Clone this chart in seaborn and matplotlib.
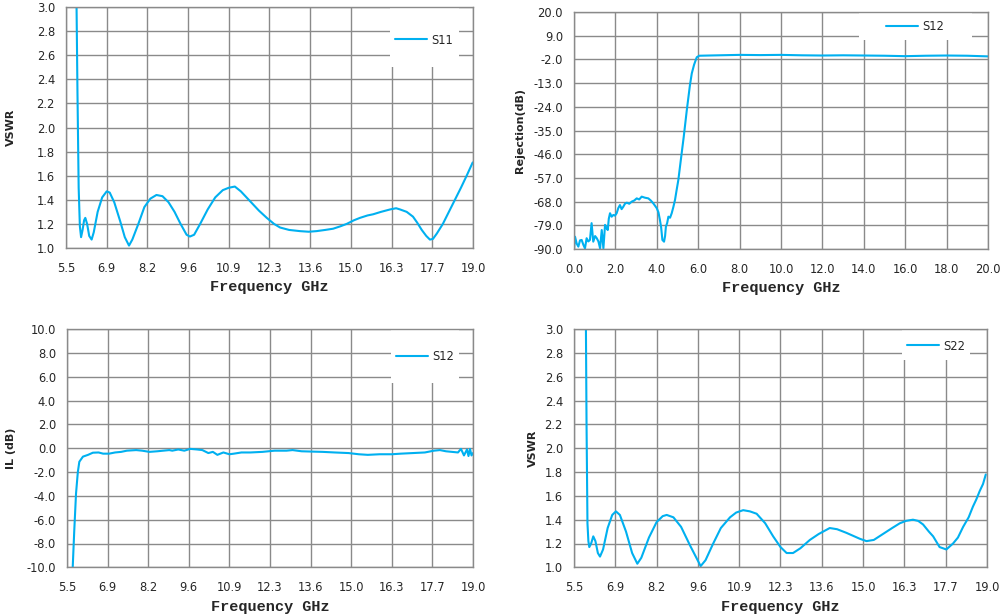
import numpy as np
import pandas as pd
import matplotlib
matplotlib.use("Agg")
import matplotlib.pyplot as plt
from matplotlib.patches import Rectangle
import seaborn as sns

# ---------------- data ----------------
s11_freq = [5.85, 5.88, 5.92, 5.96, 6.0, 6.05, 6.1, 6.14, 6.2, 6.27, 6.35, 6.42, 6.55, 6.7, 6.85,
            6.95, 7.1, 7.3, 7.45, 7.59, 7.7, 7.9, 8.1, 8.3, 8.5, 8.7, 8.9, 9.1, 9.3, 9.5, 9.61,
            9.75, 9.95, 10.2, 10.45, 10.7, 10.9, 11.1, 11.3, 11.6, 11.9, 12.16, 12.4, 12.6,
            12.9, 13.26, 13.55, 13.81, 14.1, 14.36, 14.6, 14.81, 15.05, 15.25, 15.5, 15.69,
            15.95, 16.25, 16.45, 16.58, 16.8, 17.01, 17.15, 17.3, 17.45, 17.57, 17.67, 17.8,
            18.0, 18.2, 18.4, 18.6, 18.79, 18.99]
s11_vswr = [3.0, 2.3, 1.5, 1.18, 1.09, 1.15, 1.23, 1.25, 1.2, 1.1, 1.07, 1.13, 1.3, 1.42, 1.47,
            1.46, 1.38, 1.22, 1.09, 1.02, 1.07, 1.2, 1.34, 1.41, 1.44, 1.43, 1.38, 1.3, 1.2, 1.11, 1.095,
            1.11, 1.2, 1.32, 1.42, 1.48, 1.5, 1.51, 1.47, 1.39, 1.31, 1.25, 1.2, 1.17,
            1.15, 1.14, 1.135, 1.14, 1.15, 1.16, 1.18, 1.2, 1.23, 1.25, 1.27, 1.28,
            1.3, 1.32, 1.33, 1.32, 1.3, 1.26, 1.21, 1.15, 1.1, 1.07, 1.075, 1.12,
            1.2, 1.3, 1.4, 1.5, 1.6, 1.71]

rej_freq = [0.0, 0.05, 0.13, 0.21, 0.29, 0.37, 0.45, 0.53, 0.61, 0.69, 0.77, 0.85, 0.93, 1.02, 1.1,
            1.18, 1.26, 1.34, 1.42, 1.5, 1.56, 1.63, 1.68, 1.74, 1.82, 1.9, 1.98, 2.06, 2.14, 2.22,
            2.3, 2.38, 2.46, 2.55, 2.67, 2.79, 2.91, 3.03, 3.15, 3.27, 3.43, 3.59, 3.71, 3.83,
            3.92, 4.0, 4.08, 4.15, 4.21, 4.27, 4.35, 4.4, 4.44, 4.5, 4.56, 4.64, 4.72, 4.8, 4.88,
            4.96, 5.04, 5.12, 5.3, 5.45, 5.6, 5.69, 5.8, 5.93, 6.05, 6.5, 7.0, 7.5, 8.0, 9.0,
            10.0, 11.0, 12.0, 13.0, 14.0, 15.0, 16.0, 17.0, 18.0, 19.0, 20.0]
rej_db = [-90.0, -84.3, -87.5, -88.9, -86.0, -85.8, -88.0, -89.7, -85.0, -86.5, -85.8, -78.0, -86.6, -84.0, -85.0,
          -86.5, -89.7, -81.2, -89.7, -78.8, -80.0, -81.2, -76.0, -73.4, -75.0, -74.2, -74.5, -73.4, -71.0, -69.6,
          -71.5, -70.4, -69.0, -68.5, -69.0, -68.0, -67.5, -66.5, -67.0, -65.7, -66.2, -66.5, -67.5, -68.8,
          -70.0, -71.1, -73.0, -76.5, -80.0, -85.8, -86.6, -84.0, -79.6, -78.0, -75.0, -75.5, -73.4, -70.5, -67.2,
          -62.5, -58.0, -51.8, -38.0, -25.5, -14.0, -8.5, -4.5, -1.0, -0.3, -0.2, -0.1, 0.0, 0.1, 0.0,
          0.1, -0.1, -0.2, -0.1, -0.2, -0.3, -0.5, -0.3, -0.2, -0.3, -0.6]

il_freq = [5.69, 5.74, 5.8, 5.86, 5.91, 6.03, 6.2, 6.36, 6.55, 6.7, 6.9, 7.1, 7.3, 7.49, 7.8,
           8.0, 8.24, 8.5, 8.7, 8.9, 9.0, 9.2, 9.4, 9.6, 9.83, 10.0, 10.2, 10.35, 10.5, 10.7,
           10.9, 11.05, 11.3, 11.6, 12.0, 12.4, 12.8, 13.0, 13.3, 13.7, 14.0, 14.4, 14.86,
           15.2, 15.5, 15.9, 16.3, 16.6, 17.0, 17.4, 17.7, 17.9, 18.1, 18.3, 18.5, 18.6, 18.7,
           18.8, 18.85, 18.9, 18.95, 19.0]
il_db = [-10.0, -7.0, -3.8, -2.0, -1.13, -0.7, -0.55, -0.37, -0.35, -0.45, -0.45, -0.35, -0.3, -0.2, -0.15,
         -0.2, -0.3, -0.25, -0.2, -0.15, -0.2, -0.1, -0.2, -0.05, -0.1, -0.15, -0.4, -0.3, -0.55, -0.35,
         -0.5, -0.45, -0.35, -0.35, -0.3, -0.2, -0.2, -0.15, -0.25, -0.28, -0.3, -0.35, -0.4,
         -0.5, -0.55, -0.5, -0.5, -0.45, -0.4, -0.35, -0.2, -0.15, -0.25, -0.3, -0.35, -0.05, -0.6,
         -0.1, -0.65, -0.05, -0.6, -0.4]

s22_freq = [5.89, 5.91, 5.94, 5.97, 6.0, 6.06, 6.13, 6.2, 6.28, 6.35, 6.45, 6.6, 6.75, 6.87,
            7.0, 7.2, 7.4, 7.57, 7.7, 7.95, 8.2, 8.4, 8.53, 8.75, 9.0, 9.3, 9.5, 9.64, 9.8,
            10.05, 10.3, 10.6, 10.8, 11.03, 11.25, 11.47, 11.75, 12.01, 12.25, 12.45, 12.66,
            12.9, 13.21, 13.5, 13.86, 14.1, 14.4, 14.84, 15.06, 15.3, 15.6, 15.9, 16.15, 16.35,
            16.58, 16.75, 16.91, 17.1, 17.24, 17.45, 17.67, 17.89, 18.05, 18.22, 18.4, 18.54,
            18.65, 18.76, 18.87, 18.96]
s22_vswr = [3.0, 2.2, 1.37, 1.22, 1.17, 1.2, 1.26, 1.22, 1.12, 1.09, 1.15, 1.33, 1.44, 1.47,
            1.44, 1.3, 1.12, 1.03, 1.08, 1.25, 1.38, 1.43, 1.44, 1.42, 1.34, 1.18, 1.08, 1.01, 1.06,
            1.2, 1.33, 1.42, 1.46, 1.48, 1.47, 1.45, 1.37, 1.26, 1.17, 1.12, 1.12,
            1.16, 1.23, 1.28, 1.33, 1.32, 1.29, 1.24, 1.22, 1.23, 1.28, 1.33, 1.37, 1.39,
            1.40, 1.39, 1.36, 1.3, 1.26, 1.17, 1.15, 1.2, 1.25, 1.34, 1.42, 1.51,
            1.57, 1.64, 1.7, 1.78]

vswr_ticks = [1.0, 1.2, 1.4, 1.6, 1.8, 2.0, 2.2, 2.4, 2.6, 2.8, 3.0]
freq_tick_labels = ['5.5', '6.9', '8.2', '9.6', '10.9', '12.3', '13.6', '15.0', '16.3', '17.7', '19.0']
rej_ticks = [-90.0, -79.0, -68.0, -57.0, -46.0, -35.0, -24.0, -13.0, -2.0, 9.0, 20.0]
rej_x_ticks = [0.0, 2.0, 4.0, 6.0, 8.0, 10.0, 12.0, 14.0, 16.0, 18.0, 20.0]
il_ticks = [-10.0, -8.0, -6.0, -4.0, -2.0, 0.0, 2.0, 4.0, 6.0, 8.0, 10.0]

# ---------------- style ----------------
sns.set_style("white")
plt.rcParams['font.family'] = ['DejaVu Sans']
LINE = '#00B0F0'
GRID = '#8a8a8a'
W, H = 1003.0, 616.0
TICK_FS = 8.3

fig = plt.figure(figsize=(10.03, 6.16), dpi=100)

def fmt1(v):
    return '%.1f' % v

def setup(ax, xlim, ylim, xticks, xlabels, yticks, ylabel, ylabel_x):
    ax.set_xlim(*xlim)
    ax.set_ylim(*ylim)
    ax.set_xticks(xticks)
    ax.set_xticklabels(xlabels, fontsize=TICK_FS)
    ax.set_yticks(yticks)
    ax.set_yticklabels([fmt1(v) for v in yticks], fontsize=TICK_FS)
    ax.grid(True, color=GRID, linewidth=1.0)
    for s in ax.spines.values():
        s.set_color(GRID)
        s.set_linewidth(1.0)
    ax.tick_params(length=0)
    ax.tick_params(axis='x', pad=10)
    ax.tick_params(axis='y', pad=8)
    ax.set_xlabel('Frequency GHz', fontsize=11, fontweight='bold',
                  family=['Liberation Mono', 'DejaVu Sans Mono'], labelpad=4)
    ax.set_ylabel(ylabel, fontsize=8, fontweight='bold')
    ax.yaxis.set_label_coords(ylabel_x, 0.5)

def legend(ax, label, box, line_x, line_y):
    # white background box (pixels: x0, x1, y0, y1 from top-left)
    x0, x1, y0, y1 = box
    rect = Rectangle((x0 / W, 1 - y1 / H), (x1 - x0) / W, (y1 - y0) / H,
                     transform=fig.transFigure, facecolor='white', edgecolor='none',
                     zorder=1.8)
    ax.add_patch(rect)
    rect.set_clip_on(False)
    leg = ax.legend([label], loc='center left', bbox_to_anchor=(line_x / W, 1 - line_y / H),
                    bbox_transform=fig.transFigure, frameon=False, fontsize=TICK_FS,
                    handlelength=2.75, handletextpad=0.4, borderpad=0.0, borderaxespad=0)
    leg.set_zorder(5)

freq_ticks = list(np.linspace(5.5, 19.0, 11))
LW = 1.5

# top-left
ax1 = fig.add_axes([66 / W, 1 - 248 / H, 407 / W, 241 / H])
sns.lineplot(x=s11_freq, y=s11_vswr, ax=ax1, color=LINE, linewidth=LW, label='S11')
setup(ax1, (5.5, 19.0), (1.0, 3.0), freq_ticks, freq_tick_labels, vswr_ticks, 'VSWR', -0.123)
legend(ax1, 'S11', (390, 459, 8, 67), 395, 40)

# top-right
ax2 = fig.add_axes([574 / W, 1 - 249 / H, 414 / W, 237 / H])
sns.lineplot(x=rej_freq, y=rej_db, ax=ax2, color=LINE, linewidth=LW, label='S12')
setup(ax2, (0.0, 20.0), (-90.0, 20.0), rej_x_ticks, [fmt1(v) for v in rej_x_ticks],
      rej_ticks, 'Rejection(dB)', -0.118)
legend(ax2, 'S12', (859, 972, 13, 40), 886, 27)

# bottom-left
ax3 = fig.add_axes([67 / W, 1 - 567.3 / H, 406 / W, 238 / H])
sns.lineplot(x=il_freq, y=il_db, ax=ax3, color=LINE, linewidth=LW, label='S12')
setup(ax3, (5.5, 19.0), (-10.0, 10.0), freq_ticks, freq_tick_labels, il_ticks, 'IL (dB)', -0.125)
legend(ax3, 'S12', (391, 459, 330, 383), 396, 357)

# bottom-right
ax4 = fig.add_axes([574 / W, 1 - 567.3 / H, 413 / W, 238 / H])
sns.lineplot(x=s22_freq, y=s22_vswr, ax=ax4, color=LINE, linewidth=LW, label='S22')
setup(ax4, (5.5, 19.0), (1.0, 3.0), freq_ticks, freq_tick_labels, vswr_ticks, 'VSWR', -0.087)
legend(ax4, 'S22', (902, 970, 330, 360), 907, 346)

fig.savefig('out.png', dpi=100, facecolor='white')
